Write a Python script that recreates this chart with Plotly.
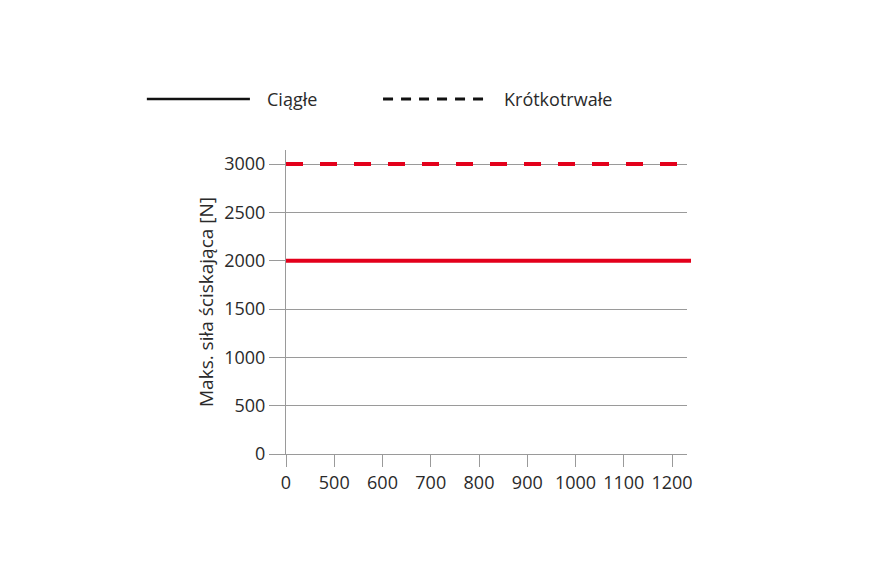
import plotly.graph_objects as go

# force limits per load type
x_labels = ["0", "500", "600", "700", "800", "900", "1000", "1100", "1200"]
continuous_force = 2000
short_term_force = 3000
legend_names = ["Ciągłe", "Krótkotrwałe"]

RED = "#e3001b"
GREY = "#9a9a9a"
FONT = "Open Sans"

fig = go.Figure()

# invisible trace so the x axis gets drawn with the category positions
fig.add_trace(
    go.Scatter(
        x=list(range(len(x_labels))),
        y=[continuous_force] * len(x_labels),
        mode="lines",
        line=dict(color="rgba(0,0,0,0)"),
        showlegend=False,
        hoverinfo="skip",
    )
)

# red force lines
fig.add_shape(
    type="line", xref="x domain", yref="y",
    x0=0, x1=1.01, y0=continuous_force, y1=continuous_force,
    line=dict(color=RED, width=4),
)
fig.add_shape(
    type="line", xref="x domain", yref="y",
    x0=0, x1=0.99, y0=short_term_force, y1=short_term_force,
    line=dict(color=RED, width=4, dash="17px,17px"),
)

# legend drawn by hand (black sample lines above the plot)
fig.add_shape(
    type="line", xref="paper", yref="paper",
    x0=-0.347, x1=-0.09, y0=1.168, y1=1.168,
    line=dict(color="#111111", width=2.5),
)
fig.add_shape(
    type="line", xref="paper", yref="paper",
    x0=0.242, x1=0.492, y0=1.168, y1=1.168,
    line=dict(color="#111111", width=3, dash="10px,8px"),
)
fig.add_annotation(
    text=legend_names[0], xref="paper", yref="paper",
    x=-0.052, y=1.168, xanchor="left", yanchor="middle",
    showarrow=False, font=dict(size=18, color="#2a2a2a", family=FONT),
)
fig.add_annotation(
    text=legend_names[1], xref="paper", yref="paper",
    x=0.539, y=1.168, xanchor="left", yanchor="middle",
    showarrow=False, font=dict(size=18, color="#2a2a2a", family=FONT),
)

fig.update_layout(
    width=885,
    height=575,
    margin=dict(l=278, r=206, t=142, b=129),
    plot_bgcolor="white",
    paper_bgcolor="white",
    font=dict(family=FONT, size=18, color="#2a2a2a"),
    showlegend=False,
)

fig.update_xaxes(
    range=[0, 8.31],
    tickmode="array",
    tickvals=list(range(len(x_labels))),
    ticktext=x_labels,
    ticks="outside",
    ticklen=12,
    tickcolor=GREY,
    showline=True,
    linecolor=GREY,
    showgrid=False,
    zeroline=False,
    tickfont=dict(size=18),
)
fig.update_yaxes(
    range=[0, 3145],
    dtick=500,
    ticks="outside",
    ticklen=16,
    tickcolor=GREY,
    showline=True,
    linecolor=GREY,
    showgrid=True,
    gridcolor=GREY,
    zeroline=False,
    tickfont=dict(size=18),
    title=dict(text="Maks. siła ściskająca [N]", standoff=5, font=dict(size=19)),
)

fig.write_html("out.html")
